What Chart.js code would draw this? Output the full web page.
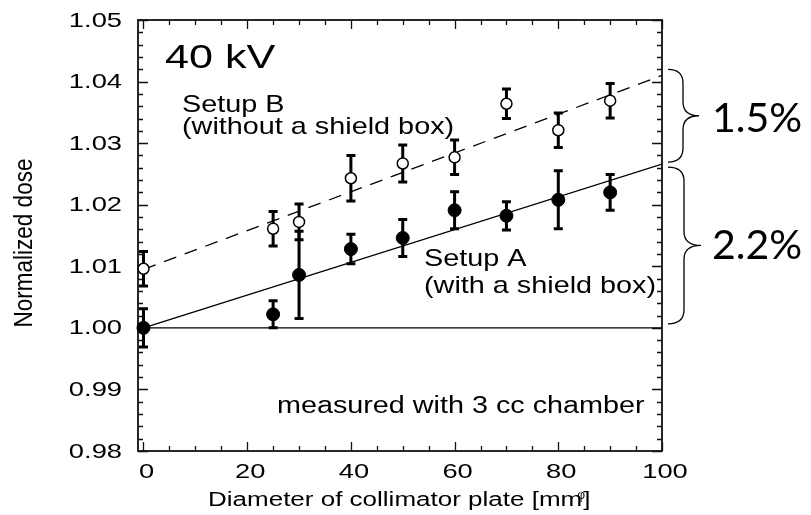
<!DOCTYPE html>
<html>
<head>
<meta charset="utf-8">
<script src="https://cdn.jsdelivr.net/npm/chart.js@4"></script>
<style>
  html, body { margin: 0; padding: 0; background: #fff; }
  canvas { display: block; }
</style>
</head>
<body>
<canvas id="chart" width="811" height="515"></canvas>
<script>
// diameters of the collimator plate (mm)
const diameters = [0, 25, 30, 40, 50, 60, 70, 80, 90];
// Setup A (with a shield box), filled points
const doseA = [1.000, 1.0022, 1.0086, 1.0128, 1.0146, 1.0191, 1.0182, 1.0208, 1.0220];
const errA = [0.0031, 0.0022, 0.0071, 0.0024, 0.0030, 0.0030, 0.0023, 0.0047, 0.0029];
// Setup B (without a shield box), open points
const doseB = [1.0096, 1.0161, 1.0172, 1.0243, 1.0267, 1.0277, 1.0364, 1.0321, 1.0369];
const errB = [0.0028, 0.0028, 0.0029, 0.0037, 0.0030, 0.0028, 0.0024, 0.0028, 0.0028];
// fitted lines, end points at 0 and 100 mm
const fitX = [0, 100];
const fitA = [1.000, 1.0266];
const fitB = [1.0095, 1.041];
const refLine = [1.000, 1.000];
// tick labels
const xTicks = [0, 20, 40, 60, 80, 100];
const yTicks = [0.98, 0.99, 1.00, 1.01, 1.02, 1.03, 1.04, 1.05];

const pts = (xs, ys) => xs.map((x, i) => ({ x: x, y: ys[i] }));

const HELV = '"Liberation Sans", Arial, sans-serif';

function wideText(ctx, txt, x, y, size, sx, align) {
  ctx.save();
  ctx.font = size + 'px ' + HELV;
  ctx.fillStyle = '#000';
  ctx.textAlign = align || 'left';
  ctx.textBaseline = 'alphabetic';
  ctx.translate(x, y);
  ctx.scale(sx, 1);
  ctx.fillText(txt, 0, 0);
  ctx.restore();
}

function brace(ctx, x0, x1, x2, yTop, yBot) {
  const ym = (yTop + yBot) / 2;
  const r = 14;
  ctx.beginPath();
  ctx.moveTo(x0, yTop);
  ctx.quadraticCurveTo(x1, yTop, x1, yTop + r);
  ctx.lineTo(x1, ym - r);
  ctx.quadraticCurveTo(x1, ym, x2, ym);
  ctx.quadraticCurveTo(x1, ym, x1, ym + r);
  ctx.lineTo(x1, yBot - r);
  ctx.quadraticCurveTo(x1, yBot, x0, yBot);
  ctx.stroke();
}

const decorations = {
  id: 'decorations',
  beforeDraw(chart) {
    const ctx = chart.ctx;
    ctx.save();
    ctx.fillStyle = '#fff';
    ctx.fillRect(0, 0, chart.width, chart.height);
    ctx.restore();
  },
  beforeDatasetsDraw(chart) {
    const ctx = chart.ctx;
    const xs = chart.scales.x, ys = chart.scales.y;
    const a = chart.chartArea;
    ctx.save();
    // frame
    ctx.strokeStyle = '#111';
    ctx.lineWidth = 1.8;
    ctx.strokeRect(a.left, a.top, a.right - a.left, a.bottom - a.top);
    // inward ticks
    ctx.lineWidth = 1.3;
    ctx.beginPath();
    for (let v = 0; v <= 100; v += 5) {
      const px = Math.round(xs.getPixelForValue(v)) + 0.5;
      const len = v % 20 === 0 ? 9 : 5;
      ctx.moveTo(px, a.bottom); ctx.lineTo(px, a.bottom - len);
      ctx.moveTo(px, a.top); ctx.lineTo(px, a.top + len);
    }
    for (let k = 0; k <= 35; k++) {
      const v = 0.98 + k * 0.002;
      const py = Math.round(ys.getPixelForValue(v)) + 0.5;
      const len = k % 5 === 0 ? 10 : 5;
      ctx.moveTo(a.left, py); ctx.lineTo(a.left + len, py);
      ctx.moveTo(a.right, py); ctx.lineTo(a.right - len, py);
    }
    ctx.stroke();

    // error bars
    ctx.strokeStyle = '#000';
    ctx.lineWidth = 3;
    const bars = (vals, errs) => {
      diameters.forEach((d, i) => {
        const px = xs.getPixelForValue(d);
        const t = ys.getPixelForValue(vals[i] + errs[i]);
        const b = ys.getPixelForValue(vals[i] - errs[i]);
        ctx.beginPath();
        ctx.moveTo(px, t); ctx.lineTo(px, b);
        ctx.moveTo(px - 4.5, t); ctx.lineTo(px + 4.5, t);
        ctx.moveTo(px - 4.5, b); ctx.lineTo(px + 4.5, b);
        ctx.stroke();
      });
    };
    bars(doseA, errA);
    bars(doseB, errB);
    ctx.restore();
  },
  afterDraw(chart) {
    const ctx = chart.ctx;
    const xs = chart.scales.x, ys = chart.scales.y;
    const a = chart.chartArea;

    // tick labels
    yTicks.forEach(v => {
      wideText(ctx, v.toFixed(2), a.left - 16, ys.getPixelForValue(v) + 6.5, 21, 1.3, 'right');
    });
    xTicks.forEach(v => {
      wideText(ctx, String(v), xs.getPixelForValue(v) + 3, a.bottom + 27, 21, 1.3, 'center');
    });

    // axis titles
    ctx.save();
    ctx.translate(32, 243);
    ctx.rotate(-Math.PI / 2);
    ctx.scale(1, 1.15);
    ctx.font = '22.5px ' + HELV;
    ctx.fillStyle = '#000';
    ctx.textAlign = 'center';
    ctx.fillText('Normalized dose', 0, 0);
    ctx.restore();

    const xTitle = 'Diameter of collimator plate [mm';
    wideText(ctx, xTitle, 208, 506, 20, 1.3, 'left');
    ctx.save();
    ctx.font = '20px ' + HELV;
    const w = ctx.measureText(xTitle).width * 1.3;
    ctx.restore();
    wideText(ctx, ']', 208 + w + 1, 506, 20, 1.3, 'left');
    wideText(ctx, '\u03c6', 208 + w - 1, 499, 12, 1.0, 'center');

    // annotations inside the plot
    wideText(ctx, '40 kV', 165, 68, 34, 1.27, 'left');
    wideText(ctx, 'Setup B', 182, 112, 24, 1.2, 'left');
    wideText(ctx, '(without a shield box)', 182, 134, 24, 1.2, 'left');
    wideText(ctx, 'Setup A', 424, 266, 24, 1.2, 'left');
    wideText(ctx, '(with a shield box)', 424, 293, 24, 1.2, 'left');
    wideText(ctx, 'measured with 3 cc chamber', 277, 413, 23, 1.25, 'left');

    // braces showing the spread at 100 mm
    ctx.save();
    ctx.strokeStyle = '#000';
    ctx.lineWidth = 1.3;
    const top = ys.getPixelForValue(fitB[1]) - 6;
    const mid = ys.getPixelForValue(fitA[1]);
    const bot = ys.getPixelForValue(fitA[0]) - 4;
    brace(ctx, a.right + 6, a.right + 21, a.right + 37, top, mid - 2);
    brace(ctx, a.right + 6, a.right + 22, a.right + 39, mid + 3, bot);
    ctx.font = '41px Lato, "Open Sans", sans-serif';
    ctx.fillStyle = '#000';
    ctx.textAlign = 'left';
    ctx.fillText('1.5%', 712, (top + mid) / 2 + 15);
    ctx.fillText('2.2%', 712, (mid + bot) / 2 + 15);
    ctx.restore();
  }
};

new Chart(document.getElementById('chart'), {
  type: 'scatter',
  data: {
    datasets: [
      {
        label: 'Setup A',
        data: pts(diameters, doseA),
        pointRadius: 6.5,
        pointBackgroundColor: '#000',
        pointBorderColor: '#000',
        pointBorderWidth: 1,
        showLine: false,
        clip: false,
        order: 1
      },
      {
        label: 'Setup B',
        data: pts(diameters, doseB),
        pointRadius: 5.5,
        pointBackgroundColor: '#fff',
        pointBorderColor: '#000',
        pointBorderWidth: 1.5,
        showLine: false,
        clip: false,
        order: 1
      },
      {
        label: 'Fit A',
        data: pts(fitX, fitA),
        showLine: true,
        pointRadius: 0,
        borderColor: '#000',
        borderWidth: 1.3,
        order: 3
      },
      {
        label: 'Fit B',
        data: pts(fitX, fitB),
        showLine: true,
        pointRadius: 0,
        borderColor: '#000',
        borderWidth: 1.3,
        borderDash: [13, 9],
        order: 3
      },
      {
        label: 'Reference',
        data: pts(fitX, refLine),
        showLine: true,
        pointRadius: 0,
        borderColor: '#000',
        borderWidth: 1.3,
        order: 3
      }
    ]
  },
  options: {
    responsive: false,
    animation: false,
    devicePixelRatio: 1,
    layout: { padding: { left: 0, top: 20, right: 149, bottom: 0 } },
    plugins: {
      legend: { display: false },
      tooltip: { enabled: false }
    },
    scales: {
      x: {
        type: 'linear',
        min: -1.06,
        max: 100,
        grid: { display: false, drawTicks: false },
        border: { display: false },
        ticks: { display: false },
        afterFit: s => { s.height = 64; }
      },
      y: {
        type: 'linear',
        min: 0.98,
        max: 1.05,
        grid: { display: false, drawTicks: false },
        border: { display: false },
        ticks: { display: false },
        afterFit: s => { s.width = 138; }
      }
    }
  },
  plugins: [decorations]
});
</script>
</body>
</html>
